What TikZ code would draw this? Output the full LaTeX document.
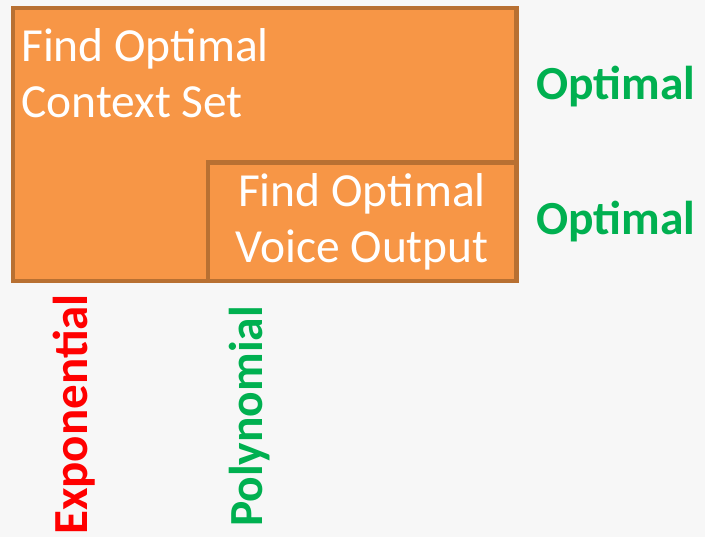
\documentclass[tikz,border=0pt]{standalone}
\usepackage{fontspec}
\setmainfont{Carlito}
\definecolor{pagebg}{HTML}{F7F7F7}
\definecolor{boxfill}{HTML}{F79646}
\definecolor{boxline}{RGB}{184,112,50}
\definecolor{goodgreen}{HTML}{00B050}
\definecolor{badred}{HTML}{FF0000}
\tikzset{
  taskbox/.style={draw=boxline, fill=boxfill, line width=4.5pt},
  tasktext/.style={text=white, inner sep=0pt, font=\fontsize{47.5}{56}\selectfont},
  verdict/.style={inner sep=0pt, font=\fontsize{47.5}{56}\selectfont\bfseries},
}
\begin{document}
\begin{tikzpicture}[x=1pt,y=-1pt]
  % canvas
  \fill[pagebg] (0,0) rectangle (705,537);
  \useasboundingbox (0,0) rectangle (705,537);

  % nested task boxes
  \draw[taskbox] (13,8) rectangle (516.5,281);
  \draw[taskbox] (208,162.5) rectangle (516.5,281);

  % box captions
  \node[tasktext, anchor=base west] (ctx1) at (21,62) {Find Optimal};
  \node[tasktext, anchor=base west] (ctx2) at (21,118) {Context Set};
  \node[tasktext, anchor=base] (voc1) at (362,207) {Find Optimal};
  \node[tasktext, anchor=base] (voc2) at (362,263) {Voice Output};

  % quality of each step
  \node[verdict, text=goodgreen, anchor=base west] (opt1) at (536,100) {Optimal};
  \node[verdict, text=goodgreen, anchor=base west] (opt2) at (536,235) {Optimal};

  % running time of each step
  \node[verdict, text=badred, rotate=90, anchor=base west, font=\fontsize{49}{56}\selectfont\bfseries] (expo) at (87,535) {Exponential};
  \node[verdict, text=goodgreen, rotate=90, anchor=base west] (poly) at (262,527) {Polynomial};
\end{tikzpicture}
\end{document}
